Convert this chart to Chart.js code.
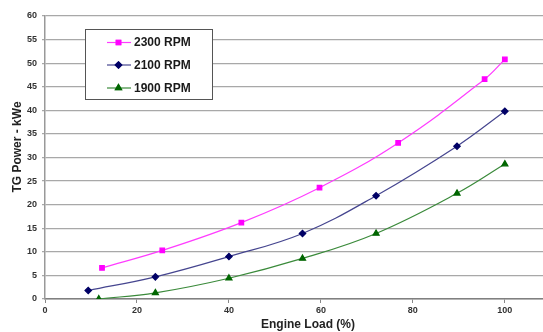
<!DOCTYPE html>
<html lang="en">
<head>
  <meta charset="UTF-8">
  <title>TG Power vs Engine Load</title>
  <script src="https://cdn.jsdelivr.net/npm/chart.js"></script>
  <style>
    * { margin: 0; padding: 0; box-sizing: border-box; }
    body { background: white; width: 543px; height: 332px; overflow: hidden; }
    .chart-container { position: relative; width: 543px; height: 332px; }
  </style>
</head>
<body>
  <div class="chart-container">
    <canvas id="powerChart"></canvas>
  </div>

  <script>
    // Values
    const seriesLabels = ['2300 RPM', '2100 RPM', '1900 RPM'];
    const load2300 = [12.4, 25.5, 42.7, 59.7, 76.8, 95.6, 100];
    const power2300 = [6.6, 10.3, 16.2, 23.6, 33.1, 46.6, 50.8];
    const load2100 = [9.4, 24.0, 40.0, 56.0, 72.0, 89.6, 100];
    const power2100 = [1.8, 4.7, 9.0, 13.9, 21.9, 32.4, 39.8];
    const load1900 = [11.7, 24.0, 40.0, 56.0, 72.0, 89.6, 100];
    const power1900 = [0.0, 1.3, 4.4, 8.6, 13.9, 22.4, 28.6];
    const xTicks = [0, 20, 40, 60, 80, 100];

    const FONT = 'Liberation Sans, Arial, sans-serif';

    function toPoints(xs, ys) {
      return xs.map((x, i) => ({ x: x, y: ys[i] }));
    }

    // Legend box and axis titles, placed like the original
    const decorations = {
      id: 'decorations',
      afterDraw(chart) {
        const ctx = chart.ctx;
        ctx.save();

        // legend box
        ctx.fillStyle = '#ffffff';
        ctx.strokeStyle = '#555555';
        ctx.lineWidth = 1;
        ctx.fillRect(85.5, 29.5, 127, 70);
        ctx.strokeRect(85.5, 29.5, 127, 70);

        const rows = [42.5, 65, 88];
        chart.data.datasets.forEach((ds, i) => {
          const y = rows[i];
          ctx.strokeStyle = ds.borderColor;
          ctx.lineWidth = 1.2;
          ctx.beginPath();
          ctx.moveTo(107, y);
          ctx.lineTo(131, y);
          ctx.stroke();
          Chart.helpers.drawPoint(ctx, {
            pointStyle: ds.pointStyle,
            radius: ds.pointRadius,
            rotation: 0,
            borderWidth: 1
          }, 118.5, y);
          ctx.fillStyle = ds.pointBackgroundColor;
          ctx.strokeStyle = ds.pointBorderColor;
          ctx.fill();
          ctx.stroke();
          ctx.fillStyle = '#1a1a1a';
          ctx.font = 'bold 12px ' + FONT;
          ctx.textAlign = 'left';
          ctx.textBaseline = 'middle';
          ctx.fillText(ds.label, 134, y + 0.5);
        });

        // axis titles
        ctx.fillStyle = '#222222';
        ctx.font = 'bold 12px ' + FONT;
        ctx.textAlign = 'center';
        ctx.textBaseline = 'middle';
        ctx.fillText('Engine Load (%)', 308, 325);

        ctx.translate(18, 147);
        ctx.rotate(-Math.PI / 2);
        ctx.fillText('TG Power - kWe', 0, 0);
        ctx.restore();
      }
    };

    const ctx = document.getElementById('powerChart').getContext('2d');
    new Chart(ctx, {
      type: 'line',
      data: {
        datasets: [
          {
            label: seriesLabels[0],
            data: toPoints(load2300, power2300),
            borderColor: '#ff3cff',
            borderWidth: 1.2,
            pointStyle: 'rect',
            pointRadius: 3.2,
            pointBackgroundColor: '#ff00ff',
            pointBorderColor: '#ff00ff',
            tension: 0.4
          },
          {
            label: seriesLabels[1],
            data: toPoints(load2100, power2100),
            borderColor: '#45458f',
            borderWidth: 1.2,
            pointStyle: 'rectRot',
            pointRadius: 3.2,
            pointBackgroundColor: '#000066',
            pointBorderColor: '#000066',
            tension: 0.4
          },
          {
            label: seriesLabels[2],
            data: toPoints(load1900, power1900),
            borderColor: '#3a8a3a',
            borderWidth: 1.2,
            pointStyle: 'triangle',
            pointRadius: 3.5,
            pointBackgroundColor: '#006600',
            pointBorderColor: '#006600',
            tension: 0.4
          }
        ]
      },
      options: {
        responsive: true,
        maintainAspectRatio: false,
        animation: false,
        layout: {
          autoPadding: false,
          padding: { top: 16, right: 0, bottom: 0, left: 0 }
        },
        plugins: {
          legend: { display: false },
          tooltip: { enabled: false }
        },
        scales: {
          x: {
            type: 'linear',
            min: 0,
            max: 108.3,
            afterBuildTicks: (scale) => {
              scale.ticks = xTicks.map(v => ({ value: v }));
            },
            afterFit: (scale) => { scale.height = 33; },
            grid: {
              drawOnChartArea: false,
              drawTicks: true,
              tickLength: 4,
              color: '#888888'
            },
            border: { color: '#808080', width: 1.5 },
            ticks: {
              padding: 2,
              color: '#333333',
              font: { family: FONT, size: 9, weight: 'bold' }
            }
          },
          y: {
            min: 0,
            max: 60,
            afterFit: (scale) => { scale.width = 45; },
            grid: {
              color: '#a8a8a8',
              lineWidth: 1.2,
              tickLength: 3
            },
            border: { color: '#999999', width: 1.5 },
            ticks: {
              stepSize: 5,
              padding: 5,
              color: '#333333',
              font: { family: FONT, size: 9, weight: 'bold' }
            }
          }
        }
      },
      plugins: [decorations]
    });
  </script>
</body>
</html>
